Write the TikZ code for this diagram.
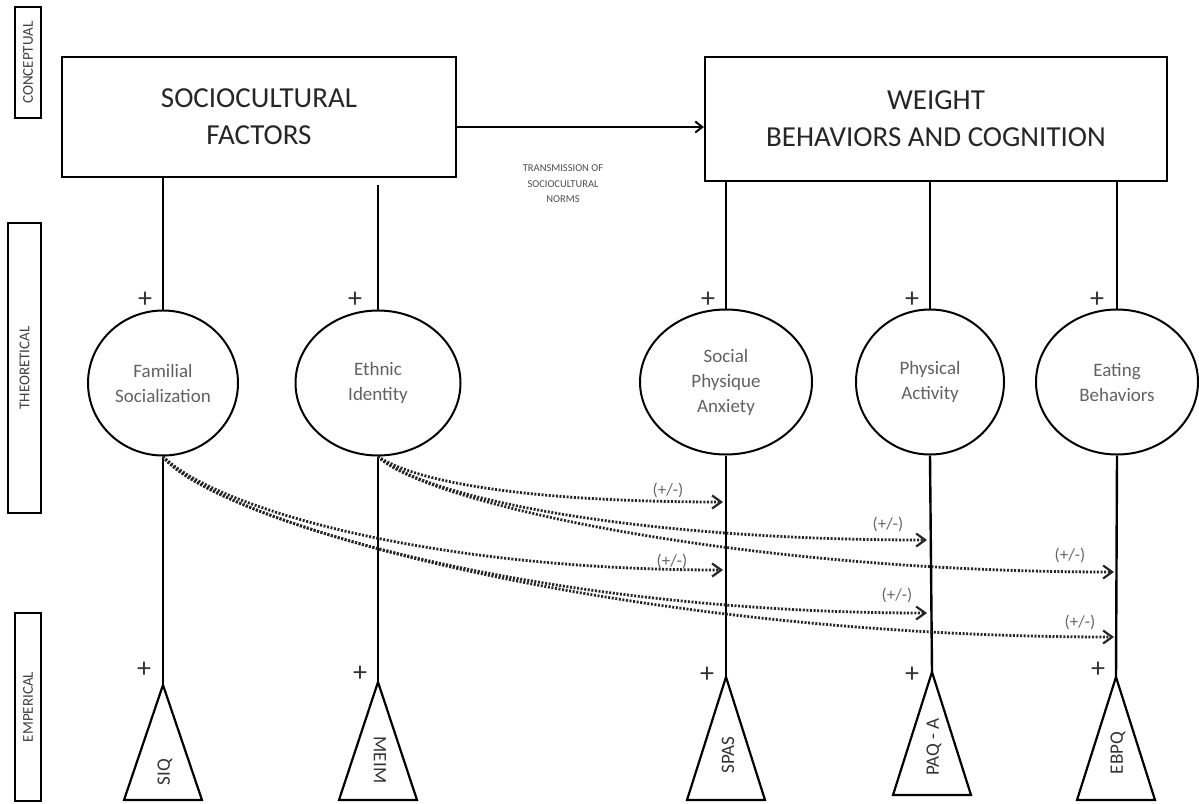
\documentclass[tikz,border=0pt]{standalone}
\usepackage{fontspec}
\setmainfont{Carlito}
\usetikzlibrary{positioning}
\usetikzlibrary{arrows.meta,shapes}
\usetikzlibrary{calc}
\tikzstyle{levelbox}=[draw,line width=1.8pt,rotate=90,inner sep=0pt,font=\fontsize{15}{15}\selectfont,text=black!75]
\tikzstyle{factor}=[draw,line width=2.2pt,rectangle,align=center,inner sep=0pt,font=\fontsize{29}{37}\selectfont,text=black!85]
\tikzstyle{construct}=[ellipse,draw,line width=2pt,align=center,inner sep=0pt,font=\fontsize{19}{25}\selectfont,text=black!62]
\tikzstyle{measure}=[draw,line width=2.2pt,line join=miter]
\tikzstyle{measuretext}=[font=\fontsize{19}{19}\selectfont,text=black!80]
\tikzstyle{norms}=[align=center,font=\fontsize{10.5}{15.5}\selectfont,text=black!70]
\tikzstyle{link} = [draw,line width=2.4pt]
\tikzstyle{mainlink} = [draw,line width=2.4pt,-{Straight Barb[length=7pt,width=11pt,line width=2pt]}]
\tikzstyle{effect} = [draw,black!85,line width=2.8pt,dash pattern=on 2pt off 1.6pt,-{Straight Barb[length=9pt,width=13pt,line width=2.2pt]}]
\tikzstyle{sign} = [font=\fontsize{28}{28}\selectfont,text=black!80]
\tikzstyle{pm} = [font=\fontsize{17}{17}\selectfont,text=black!60]

\begin{document}
\begin{tikzpicture}[x=1pt,y=1pt]
    \useasboundingbox (0,0) rectangle (1199,-803);

    % levels on the left
    \node[levelbox,minimum width=111,minimum height=26] (conc) at (28,-62.5) {CONCEPTUAL};
    \node[levelbox,minimum width=290,minimum height=33] (theo) at (24.5,-368) {THEORETICAL};
    \node[levelbox,minimum width=188,minimum height=26] (emp) at (28,-707) {EMPERICAL};

    % conceptual level
    \node[factor,minimum width=394,minimum height=120] (socio) at (259,-117) {SOCIOCULTURAL\\FACTORS};
    \node[factor,minimum width=462,minimum height=124] (weight) at (936,-119) {WEIGHT\\BEHAVIORS AND COGNITION};
    \node[norms] (norms) at (563,-184) {TRANSMISSION OF\\SOCIOCULTURAL\\NORMS};

    \path[mainlink] ([yshift=-10pt]socio.east) -- ([yshift=-10pt]socio.east -| weight.west);

    % theoretical level
    \foreach \pos/\name/\w/\txt in {{(163,-383)/fam/150/{Familial\\Socialization}},
                                   {(378,-383)/eth/165/{Ethnic\\Identity}},
                                   {(726,-382)/spa/172/{Social\\Physique\\Anxiety}},
                                   {(930,-382)/pha/148/{Physical\\Activity}},
                                   {(1117,-382)/eat/162/{Eating\\Behaviors}}}
        \node[construct,minimum width=\w,minimum height=145] (\name) at \pos {\txt};

    \coordinate (ethtop) at (378,-185);
    \path[link] (fam.north) -- (fam.north |- socio.south);
    \path[link] (eth.north) -- (ethtop);
    \foreach \name in {spa,pha,eat}
        \path[link] (\name.north) -- (\name.north |- weight.south);

    % empirical level
    \foreach \x/\ytop/\yb/\name/\ty/\rot/\txt in {163/-685/-800/siq/-772/90/SIQ,
                                               378/-682/-800/meim/-760/-90/MEIM,
                                               726/-677/-800/spas/-755/90/SPAS,
                                               932/-672/-795/paq/-747/90/PAQ - A,
                                               1116/-677/-800/ebpq/-753/90/EBPQ}
    {
        \coordinate (\name) at (\x,\ytop);
        \draw[measure] (\name) -- (\x-39,\yb) -- (\x+39,\yb) -- cycle;
        \node[measuretext,rotate=\rot] (\name-t) at (\x+2,\ty) {\txt};
    }

    \foreach \source/\dest in {fam/siq, eth/meim, spa/spas, pha/paq, eat/ebpq}
        \path[link] (\source.south) -- (\dest);

    % signs
    \foreach \pos/\name in {{(145,-300)/p1}, {(355,-300)/p2}, {(708,-300)/p3}, {(912,-300)/p4}, {(1097,-300)/p5},
                            {(144,-670)/p6}, {(360,-674)/p7}, {(707,-675)/p8}, {(912,-675)/p9}, {(1098,-670)/p10}}
        \node[sign] (\name) at \pos {+};

    % sociocultural effects
    \foreach \x/\y/\name in {723/-502/e1, 927/-540/e2, 1114/-572/e3,
                             723/-570/e4, 927/-613/e5, 1114/-637/e6}
        \coordinate (\name) at (\x,\y);

    \foreach \source/\dest/\ca/\cb in {eth/e1/{(45,-30)}/{(-170,0)}, eth/e2/{(45,-40)}/{(-300,0)},
                                       eth/e3/{(45,-45)}/{(-380,0)}, fam/e4/{(50,-50)}/{(-300,0)},
                                       fam/e5/{(50,-60)}/{(-400,0)}, fam/e6/{(50,-65)}/{(-500,0)}}
        \path[effect] (\source.south) .. controls +\ca and +\cb .. (\dest);

    \foreach \pos/\name in {{(668,-490)/l1}, {(888,-524)/l2}, {(1070,-555)/l3},
                            {(672,-561)/l4}, {(897,-595)/l5}, {(1080,-622)/l6}}
        \node[pm] (\name) at \pos {(+/-)};

\end{tikzpicture}
\end{document}
